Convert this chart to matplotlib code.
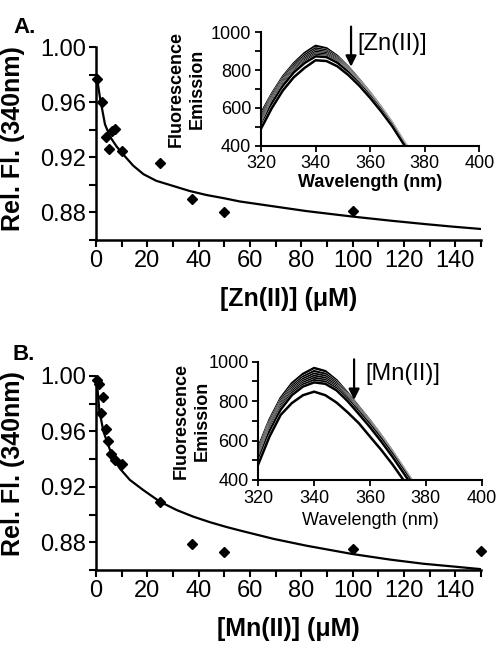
import matplotlib
matplotlib.use('Agg')
import matplotlib.pyplot as plt
import matplotlib.patheffects as pe
from matplotlib.ticker import MultipleLocator, FormatStrFormatter

plt.rcParams['font.family'] = ['Liberation Sans', 'DejaVu Sans']

# ---------------- data ----------------
zn_conc = [0.5, 2.5, 3.75, 5, 6.25, 7.5, 10, 25, 37.5, 50, 100]
zn_rel = [0.977, 0.960, 0.935, 0.926, 0.939, 0.941, 0.925, 0.916, 0.890, 0.880, 0.881]
zn_fit_x = [0.3, 1.5, 3.5, 5.5, 8, 10.5, 14.5, 18.5, 23.5, 30, 36.5, 43, 50, 56, 69, 82, 100, 115, 128, 139, 150]
zn_fit_y = [0.979, 0.964, 0.944, 0.935, 0.928, 0.9224, 0.914, 0.9078, 0.903, 0.8993, 0.8956, 0.8927,
            0.8903, 0.888, 0.8845, 0.881, 0.877, 0.874, 0.8716, 0.8697, 0.868]

mn_conc = [0.5, 1, 1.8, 2.6, 3.8, 4.8, 5.8, 7.4, 10, 25, 37.5, 50, 100, 150]
mn_rel = [0.997, 0.994, 0.973, 0.985, 0.9615, 0.953, 0.9435, 0.9394, 0.9365, 0.9093, 0.879, 0.873, 0.875, 0.874]
mn_fit_x = [0.2, 1.3, 2.9, 4.8, 6.8, 9.4, 13.2, 18.4, 24.9, 31.4, 37.9, 44.4, 50.9, 56.1, 69.1, 82.1, 100, 114.6, 127.6, 139.3, 150]
mn_fit_y = [0.999, 0.975, 0.96, 0.95, 0.94, 0.933, 0.925, 0.9177, 0.9093, 0.9033, 0.8985, 0.8945, 0.891,
            0.8885, 0.8825, 0.8775, 0.8715, 0.8675, 0.8645, 0.8625, 0.8606]

wavelengths = [320, 324, 328, 332, 336, 340, 344, 348, 352, 356, 360, 364, 368, 372, 376]
zn_spectra = [
    [570, 675, 765, 835, 890, 928, 915, 874, 816, 750, 680, 604, 523, 429, 340],
    [555, 665, 755, 825, 878, 915, 904, 866, 810, 746, 677, 602, 521, 427, 338],
    [542, 655, 745, 815, 868, 905, 896, 860, 805, 742, 674, 600, 519, 426, 337],
    [530, 647, 738, 808, 860, 896, 889, 854, 800, 738, 671, 597, 517, 424, 335],
    [518, 640, 731, 801, 852, 888, 882, 849, 796, 735, 668, 595, 515, 423, 334],
    [508, 632, 724, 794, 845, 880, 875, 844, 792, 732, 666, 593, 514, 421, 332],
    [500, 625, 717, 788, 838, 873, 869, 839, 789, 729, 663, 591, 512, 420, 331],
    [490, 600, 692, 762, 812, 852, 848, 820, 774, 718, 653, 582, 505, 415, 328],
]
mn_spectra = [
    [565, 705, 815, 890, 938, 968, 952, 906, 841, 771, 701, 626, 546, 461, 376],
    [550, 692, 802, 876, 923, 952, 938, 896, 834, 766, 697, 623, 544, 459, 374],
    [538, 682, 792, 866, 912, 939, 927, 888, 828, 761, 693, 620, 541, 457, 372],
    [527, 674, 784, 857, 902, 928, 917, 880, 823, 757, 690, 617, 539, 455, 370],
    [517, 666, 776, 849, 893, 917, 907, 872, 817, 752, 686, 614, 536, 452, 368],
    [508, 657, 767, 840, 884, 906, 898, 865, 811, 747, 681, 610, 532, 449, 365],
    [500, 647, 757, 830, 874, 895, 888, 855, 800, 735, 668, 596, 519, 436, 352],
    [480, 620, 730, 790, 830, 848, 830, 793, 743, 688, 620, 553, 480, 400, 320],
]

main_xticks = [0, 20, 40, 60, 80, 100, 120, 140]
main_yticks = [0.88, 0.92, 0.96, 1.00]
inset_xticks = [320, 340, 360, 380, 400]
inset_yticks = [400, 600, 800, 1000]

# ---------------- figure ----------------
W, H = 497, 652
fig = plt.figure(figsize=(W / 100, H / 100), dpi=100)


def px_axes(x0, x1, ytop, ybot):
    return [x0 / W, 1 - ybot / H, (x1 - x0) / W, (ybot - ytop) / H]


def style_main(ax, conc, rel, fx, fy, xlabel, ylab_y):
    ax.plot(fx, fy, color='black', lw=1.6, solid_joinstyle='round')
    ax.plot(conc, rel, linestyle='none', marker='D', ms=5, color='black', clip_on=False)
    ax.set_xlim(0, 150)
    ax.set_ylim(0.86, 1.00)
    for s in ['top', 'right']:
        ax.spines[s].set_visible(False)
    for s in ['left', 'bottom']:
        ax.spines[s].set_linewidth(1.8)
    ax.set_xticks(main_xticks)
    ax.xaxis.set_minor_locator(MultipleLocator(10))
    ax.set_yticks(main_yticks)
    ax.yaxis.set_minor_locator(MultipleLocator(0.02))
    ax.yaxis.set_major_formatter(FormatStrFormatter('%.2f'))
    ax.tick_params(which='both', direction='out', length=5, width=1.5, labelsize=17, pad=2)
    ax.set_xlabel(xlabel, fontsize=18, fontweight='bold', labelpad=11)
    ax.set_ylabel('Rel. Fl. (340nm)', fontsize=18, fontweight='bold')
    ax.yaxis.set_label_coords(-0.184, ylab_y)


def style_inset(ax, spectra, arrow_x, arrow_top, arrow_tip, label, label_x, xl_weight, ylab_x, xl_pad):
    for spec in spectra:
        ax.plot(wavelengths, spec, color='black', lw=1.8, solid_joinstyle='round',
                path_effects=[pe.Stroke(linewidth=2.2, foreground='white'), pe.Normal()])
    ax.set_xlim(320, 400)
    ax.set_ylim(400, 1000)
    ax.patch.set_alpha(0)
    for s in ['top', 'right']:
        ax.spines[s].set_visible(False)
    for s in ['left', 'bottom']:
        ax.spines[s].set_linewidth(1.5)
    ax.set_xticks(inset_xticks)
    ax.set_yticks(inset_yticks)
    ax.yaxis.set_minor_locator(MultipleLocator(100))
    ax.tick_params(which='both', direction='out', length=4, width=1.3, labelsize=13, pad=3)
    ax.set_xlabel('Wavelength (nm)', fontsize=13, fontweight=xl_weight, labelpad=xl_pad)
    ax.text(ylab_x, 0.5, 'Fluorescence\nEmission', transform=ax.transAxes, rotation=90,
            ha='center', va='center', fontsize=13, fontweight='bold', linespacing=1.3)
    ax.annotate('', xy=(arrow_x, arrow_tip), xytext=(arrow_x, arrow_top),
                arrowprops=dict(arrowstyle='-|>', lw=1.6, color='black', mutation_scale=16,
                                shrinkA=0, shrinkB=0),
                annotation_clip=False)
    ax.text(label_x, 940, label, ha='left', va='center', fontsize=17)


# Panel A
axA = fig.add_axes(px_axes(96, 481, 47.3, 240))
style_main(axA, zn_conc, zn_rel, zn_fit_x, zn_fit_y, '[Zn(II)] (μM)', 0.527)
insA = fig.add_axes(px_axes(261, 479.3, 32.3, 145.7))
style_inset(insA, zn_spectra, 353, 1030, 818, '[Zn(II)]', 355.3, 'bold', -0.339, 1)

# Panel B
axB = fig.add_axes(px_axes(96, 481, 376, 570))
style_main(axB, mn_conc, mn_rel, mn_fit_x, mn_fit_y, '[Mn(II)] (μM)', 0.55)
insB = fig.add_axes(px_axes(258.3, 481.7, 361.7, 480))
style_inset(insB, mn_spectra, 354.3, 1012, 806, '[Mn(II)]', 358.5, 'normal', -0.297, 4)

fig.text(13 / W, 1 - 33 / H, 'A.', fontsize=16, fontweight='bold', ha='left', va='baseline')
fig.text(13 / W, 1 - 360 / H, 'B.', fontsize=16, fontweight='bold', ha='left', va='baseline')

fig.savefig('out.png', dpi=100)
